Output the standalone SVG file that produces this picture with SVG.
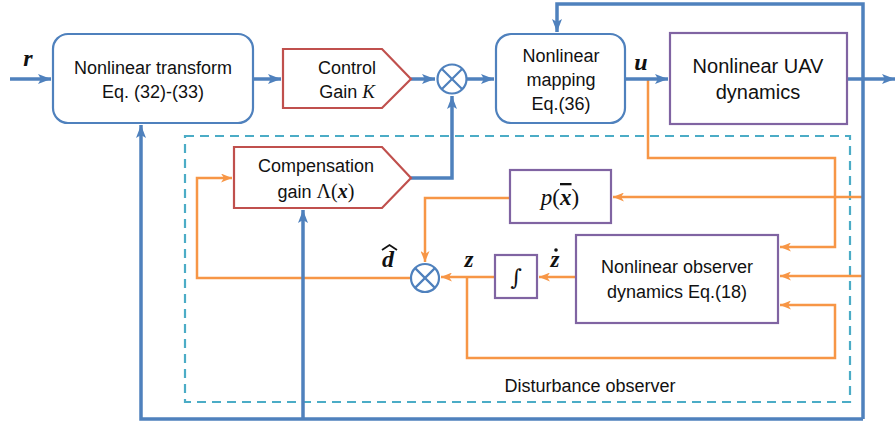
<svg xmlns="http://www.w3.org/2000/svg" width="895" height="426" viewBox="0 0 895 426">
<style>
.t{font-family:"Liberation Sans",Arial,sans-serif;font-size:18px;fill:#111;text-anchor:middle}
.m{font-family:"Liberation Serif","Times New Roman",serif;font-weight:bold;font-style:italic;fill:#111;text-anchor:middle}
.s{font-family:"Liberation Serif","Times New Roman",serif}
.bl{fill:none;stroke:#4f81bd;stroke-width:3.5}
.or{fill:none;stroke:#f79646;stroke-width:2.5}
.rb{fill:#fff;stroke:#4f81bd;stroke-width:2.2}
.pb{fill:#fff;stroke:#8064a2;stroke-width:2.2}
.rg{fill:#fff;stroke:#c0504d;stroke-width:2.2}
.sum{fill:#fff;stroke:#4f81bd;stroke-width:2.2}
</style>
<defs>
<marker id="ab" markerUnits="userSpaceOnUse" markerWidth="13" markerHeight="10" refX="13" refY="5" orient="auto"><path d="M0,0 L13,5 L0,10 L3,5 z" fill="#4f81bd"/></marker>
<marker id="ao" markerUnits="userSpaceOnUse" markerWidth="11" markerHeight="9" refX="11" refY="4.5" orient="auto"><path d="M0,0 L11,4.5 L0,9 L3,4.5 z" fill="#f79646"/></marker>
</defs>

<rect id="dob" x="185" y="136" width="665" height="266" fill="none" stroke="#4bacc6" stroke-width="2.2" stroke-dasharray="9,6"/>

<g id="connectors">
<path class="or" d="M648,79 V158 H835 V247 H780" marker-end="url(#ao)"/>
<path class="or" d="M863,197 H613" marker-end="url(#ao)"/>
<path class="or" d="M510,198 H425 V262" marker-end="url(#ao)"/>
<path class="or" d="M863,276 H780" marker-end="url(#ao)"/>
<path class="or" d="M576,277 H539" marker-end="url(#ao)"/>
<path class="or" d="M495,277 H441" marker-end="url(#ao)"/>
<path class="or" d="M467,277 V358 H835 V305 H780" marker-end="url(#ao)"/>
<path class="or" d="M410,278 H197 V178 H232" marker-end="url(#ao)"/>
<path class="bl" d="M10,79 H51" marker-end="url(#ab)"/>
<path class="bl" d="M253,79 H281" marker-end="url(#ab)"/>
<path class="bl" d="M411,79 H435" marker-end="url(#ab)"/>
<path class="bl" d="M467,79 H494" marker-end="url(#ab)"/>
<path class="bl" d="M625,79 H668" marker-end="url(#ab)"/>
<path class="bl" d="M848,79 H895" marker-end="url(#ab)"/>
<path class="bl" d="M863,419 V4 H557 V32" marker-end="url(#ab)"/>
<path class="bl" d="M863,419 H141 V125" marker-end="url(#ab)"/>
<path class="bl" d="M303,419 V210" marker-end="url(#ab)"/>
<path class="bl" d="M411,178 H452 V96" marker-end="url(#ab)"/>
</g>

<g id="transform">
<rect class="rb" x="53" y="34" width="200" height="89" rx="15"/>
<text class="t" x="153" y="74">Nonlinear transform</text>
<text class="t" x="153" y="98">Eq. (32)-(33)</text>
</g>
<g id="gainK">
<path class="rg" d="M283,49 H382 L411,79 L382,108 H283 z"/>
<text class="t" x="347" y="74">Control</text>
<text class="t" x="347" y="98">Gain <tspan class="s" font-style="italic" font-size="19">K</tspan></text>
</g>
<g id="sum1">
<circle class="sum" cx="452" cy="79" r="14.5"/>
<path d="M441.7,68.7 L462.3,89.3 M462.3,68.7 L441.7,89.3" stroke="#4f81bd" stroke-width="2.2"/>
</g>
<g id="mapping">
<rect class="rb" x="496" y="34" width="129" height="89" rx="15"/>
<text class="t" x="561" y="62">Nonlinear</text>
<text class="t" x="561" y="86">mapping</text>
<text class="t" x="561" y="110">Eq.(36)</text>
</g>
<g id="uav">
<rect class="pb" x="670" y="33" width="177" height="91"/>
<text class="t" x="758" y="73" style="font-size:20px">Nonlinear UAV</text>
<text class="t" x="758" y="99" style="font-size:20px">dynamics</text>
</g>
<g id="comp">
<path class="rg" d="M234,147 H382 L411,178 L382,208 H234 z"/>
<text class="t" x="316" y="172">Compensation</text>
<text class="t" x="316" y="198">gain <tspan class="s" font-size="20">Λ(</tspan><tspan class="s" font-size="20" font-weight="bold" font-style="italic">x</tspan><tspan class="s" font-size="20">)</tspan></text>
</g>
<g id="pbox">
<rect class="pb" x="510" y="170" width="101" height="53"/>
<text x="560" y="205" style="font-family:'Liberation Serif',serif;font-size:23px;text-anchor:middle;fill:#111"><tspan font-style="italic">p</tspan>(<tspan font-weight="bold" font-style="italic" text-decoration="overline">x</tspan>)</text>
</g>
<g id="sum2">
<circle class="sum" cx="425" cy="278" r="14"/>
<path d="M415.1,268.1 L434.9,287.9 M434.9,268.1 L415.1,287.9" stroke="#4f81bd" stroke-width="2.2"/>
</g>
<g id="integ">
<rect class="pb" x="495" y="255" width="42" height="43"/>
<text x="516" y="285" style="font-family:'DejaVu Serif','Liberation Serif',serif;font-size:22px;text-anchor:middle;fill:#111">∫</text>
</g>
<g id="observer">
<rect class="pb" x="576" y="235" width="202" height="88"/>
<text class="t" x="677" y="273">Nonlinear observer</text>
<text class="t" x="677" y="298">dynamics Eq.(18)</text>
</g>

<g id="labels">
<text class="m" x="28" y="66" font-size="24">r</text>
<text class="m" x="641" y="70" font-size="24">u</text>
<text class="m" x="469" y="267" font-size="23">z</text>
<text class="m" x="555" y="267" font-size="23">z</text>
<circle cx="556" cy="250" r="1.8" fill="#111"/>
<text class="m" x="388" y="267" font-size="24">d</text>
<path d="M382,250 L389.5,245 L397,250" fill="none" stroke="#111" stroke-width="1.8"/>
<text class="t" x="590" y="392">Disturbance observer</text>
</g>
</svg>
